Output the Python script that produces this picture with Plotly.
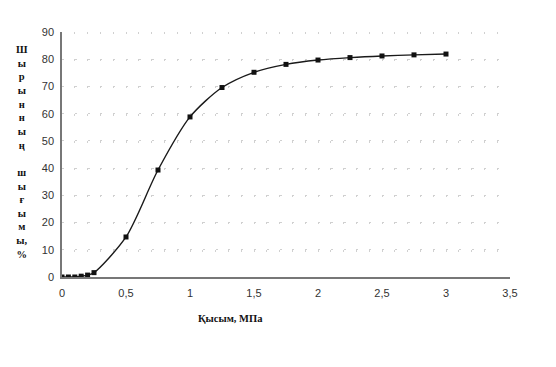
import plotly.graph_objects as go

pressure = [0, 0.05, 0.1, 0.15, 0.2, 0.25, 0.5, 0.75, 1.0, 1.25, 1.5, 1.75, 2.0, 2.25, 2.5, 2.75, 3.0]
juice_yield = [0, 0, 0, 0.3, 0.7, 1.6, 14.7, 39.3, 58.8, 69.6, 75.2, 78.1, 79.7, 80.6, 81.2, 81.6, 81.9]

x_ticks = [0, 0.5, 1, 1.5, 2, 2.5, 3, 3.5]
x_tick_labels = ["0", "0,5", "1", "1,5", "2", "2,5", "3", "3,5"]
y_ticks = [0, 10, 20, 30, 40, 50, 60, 70, 80, 90]

y_title_lines = ["Ш", "ы", "р", "ы", "н", "н", "ы", "ң", "", "ш", "ы", "ғ", "ы", "м", "ы,", "%"]
x_title = "Қысым, МПа"

fig = go.Figure()
fig.add_trace(go.Scatter(
    x=pressure, y=juice_yield, mode="lines+markers",
    line=dict(color="#1a1a1a", width=1.4, shape="spline", smoothing=0.8),
    marker=dict(symbol="square", size=5, color="#111"),
    showlegend=False,
))

tick_font = dict(family="Liberation Sans, Arial, sans-serif", size=11, color="#333")
title_font = dict(family="Liberation Serif, DejaVu Serif, serif", size=10.5, color="#111")

fig.update_layout(
    width=548, height=359,
    margin=dict(l=54, r=46, t=24, b=90),
    paper_bgcolor="white", plot_bgcolor="white",
    xaxis=dict(
        range=[0, 3.5], tickvals=x_ticks, ticktext=x_tick_labels,
        showline=True, linecolor="#777", linewidth=1.5,
        ticks="", tickfont=tick_font, zeroline=False, ticklabelstandoff=5,
        showgrid=False,
        minor=dict(dtick=0.1, showgrid=True, gridcolor="#d0d0d0", gridwidth=1, griddash="2px,25.2px"),
    ),
    yaxis=dict(
        range=[0, 90], tickvals=y_ticks,
        showline=True, linecolor="#777", linewidth=1.5,
        ticks="", tickfont=tick_font, zeroline=False, ticklabelstandoff=4,
        showgrid=True, gridcolor="#d0d0d0", gridwidth=1, griddash="2px,10.8px",
    ),
    annotations=[
        dict(text="<b>" + "<br>".join(y_title_lines) + "</b>", xref="paper", yref="paper",
             x=-0.089, y=0.96, xanchor="center", yanchor="top", showarrow=False,
             font=title_font, align="center"),
        dict(text="<b>" + x_title + "</b>", xref="paper", yref="paper",
             x=(230 - 62) / 448, y=-(318 - 277) / 245, xanchor="center", yanchor="middle",
             showarrow=False, font=title_font),
    ],
)

fig.write_html("out.html")
